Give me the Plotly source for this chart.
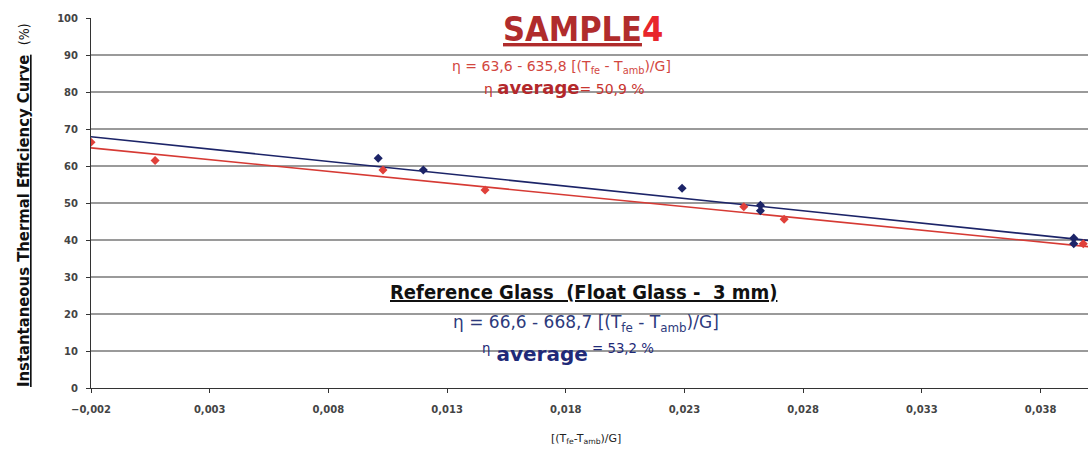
import plotly.graph_objects as go

# Dados
ref_x = [0.0101, 0.0120, 0.0229, 0.0262, 0.0262, 0.0394, 0.0394]
ref_y = [62.1, 58.9, 54.0, 49.4, 47.9, 40.5, 39.0]
s4_x = [-0.0020, 0.0007, 0.0103, 0.0146, 0.0255, 0.0272, 0.0398]
s4_y = [66.4, 61.5, 58.9, 53.5, 49.0, 45.6, 39.0]

# Linhas de tendencia (extremos)
trend_x = [-0.002, 0.040]
ref_trend_y = [67.9, 39.9]
s4_trend_y = [64.9, 38.2]

x_ticks = [-0.002, 0.003, 0.008, 0.013, 0.018, 0.023, 0.028, 0.033, 0.038]
y_ticks = [0, 10, 20, 30, 40, 50, 60, 70, 80, 90, 100]

W, H = 1088, 450
L, R, T, B = 91, 1088, 18, 388

def px(x):
    return (x - L) / (R - L)

def py(y):
    return (B - y) / (B - T)

NAVY = "#1c2468"
RED = "#e0403a"
NARROW = "Liberation Sans Narrow, DejaVu Sans Condensed, Arial Narrow, sans-serif"

fig = go.Figure()
fig.add_trace(go.Scatter(x=trend_x, y=ref_trend_y, mode="lines",
                         line=dict(color=NAVY, width=1.6), showlegend=False))
fig.add_trace(go.Scatter(x=trend_x, y=s4_trend_y, mode="lines",
                         line=dict(color="#d63a34", width=1.6), showlegend=False))
fig.add_trace(go.Scatter(x=ref_x, y=ref_y, mode="markers",
                         marker=dict(symbol="diamond", size=7, color=NAVY), showlegend=False))
fig.add_trace(go.Scatter(x=s4_x, y=s4_y, mode="markers",
                         marker=dict(symbol="diamond", size=7, color=RED), showlegend=False))

# Caixas brancas que cortam as linhas de grade
boxes = [(483, 673, 10, 27), (420, 757, 48, 98), (375, 788, 270, 285), (420, 755, 307, 357)]
for x0, x1, y0, y1 in boxes:
    fig.add_shape(type="rect", xref="paper", yref="paper", layer="between",
                  x0=px(x0), x1=px(x1), y0=py(y1), y1=py(y0),
                  fillcolor="white", line=dict(width=0))

def note(text, x, y, size, color, family="DejaVu Sans", angle=0):
    fig.add_annotation(text=text, xref="paper", yref="paper", x=px(x), y=py(y),
                       xanchor="center", yanchor="middle", showarrow=False,
                       textangle=angle, font=dict(family=family, size=size, color=color))

note("<b><u><span style='color:#b02c2c'>SAMPLE</span></u><span style='color:#e8262b'>4</span></b>",
     583, 29, 34, "#b02c2c", family=NARROW)
note("η = 63,6 - 635,8 [(T<sub>fe</sub> - T<sub>amb</sub>)/G]", 561, 67, 14, "#d2473f")
note("η <b><span style='font-size:18px;color:#b3282b'>average</span></b>= 50,9 %", 564, 87, 14, "#c8352f")

note("<b><u>Reference Glass  (Float Glass -  3 mm)</u></b>", 583, 292, 20, "#111111", family=NARROW)
note("η = 66,6 - 668,7 [(T<sub>fe</sub> - T<sub>amb</sub>)/G]", 586, 323, 17, "#2d3a7c")
note("<sup>η</sup> <b><span style='font-size:20px'>average</span></b><sup> = 53,2 %</sup>",
     568, 353, 19, "#1f2a78")

note("<b><u>Instantaneous Thermal Efficiency Curve</u></b>  <span style='font-size:14px'>(%)</span>",
     24, 205, 16.5, "#111111", family=NARROW, angle=-90)
note("[(T<sub>fe</sub>-T<sub>amb</sub>)/G]", 586, 439, 11, "#222222")

fig.update_layout(
    width=W, height=H,
    margin=dict(l=L, r=W - R, t=T, b=H - B),
    paper_bgcolor="white", plot_bgcolor="white",
    separators=", ",
    xaxis=dict(range=[-0.002, 0.040], tickvals=x_ticks, tickformat=".3f",
               showgrid=False, zeroline=False, showline=True, linecolor="#333", linewidth=1,
               ticks="outside", ticklen=4, tickcolor="#333", ticklabelstandoff=8,
               tickfont=dict(family="DejaVu Sans", size=10, color="#444", weight="bold")),
    yaxis=dict(range=[0, 100], tickvals=y_ticks, showgrid=True, gridcolor="#9a9a9a", gridwidth=2,
               zeroline=False, showline=True, linecolor="#333", linewidth=1,
               ticks="outside", ticklen=4, tickcolor="#333", ticklabelstandoff=6,
               tickfont=dict(family="DejaVu Sans", size=10, color="#444", weight="bold")),
)

fig.write_html("out.html", config={"displayModeBar": False},
               post_script="document.body.style.margin='0';")
